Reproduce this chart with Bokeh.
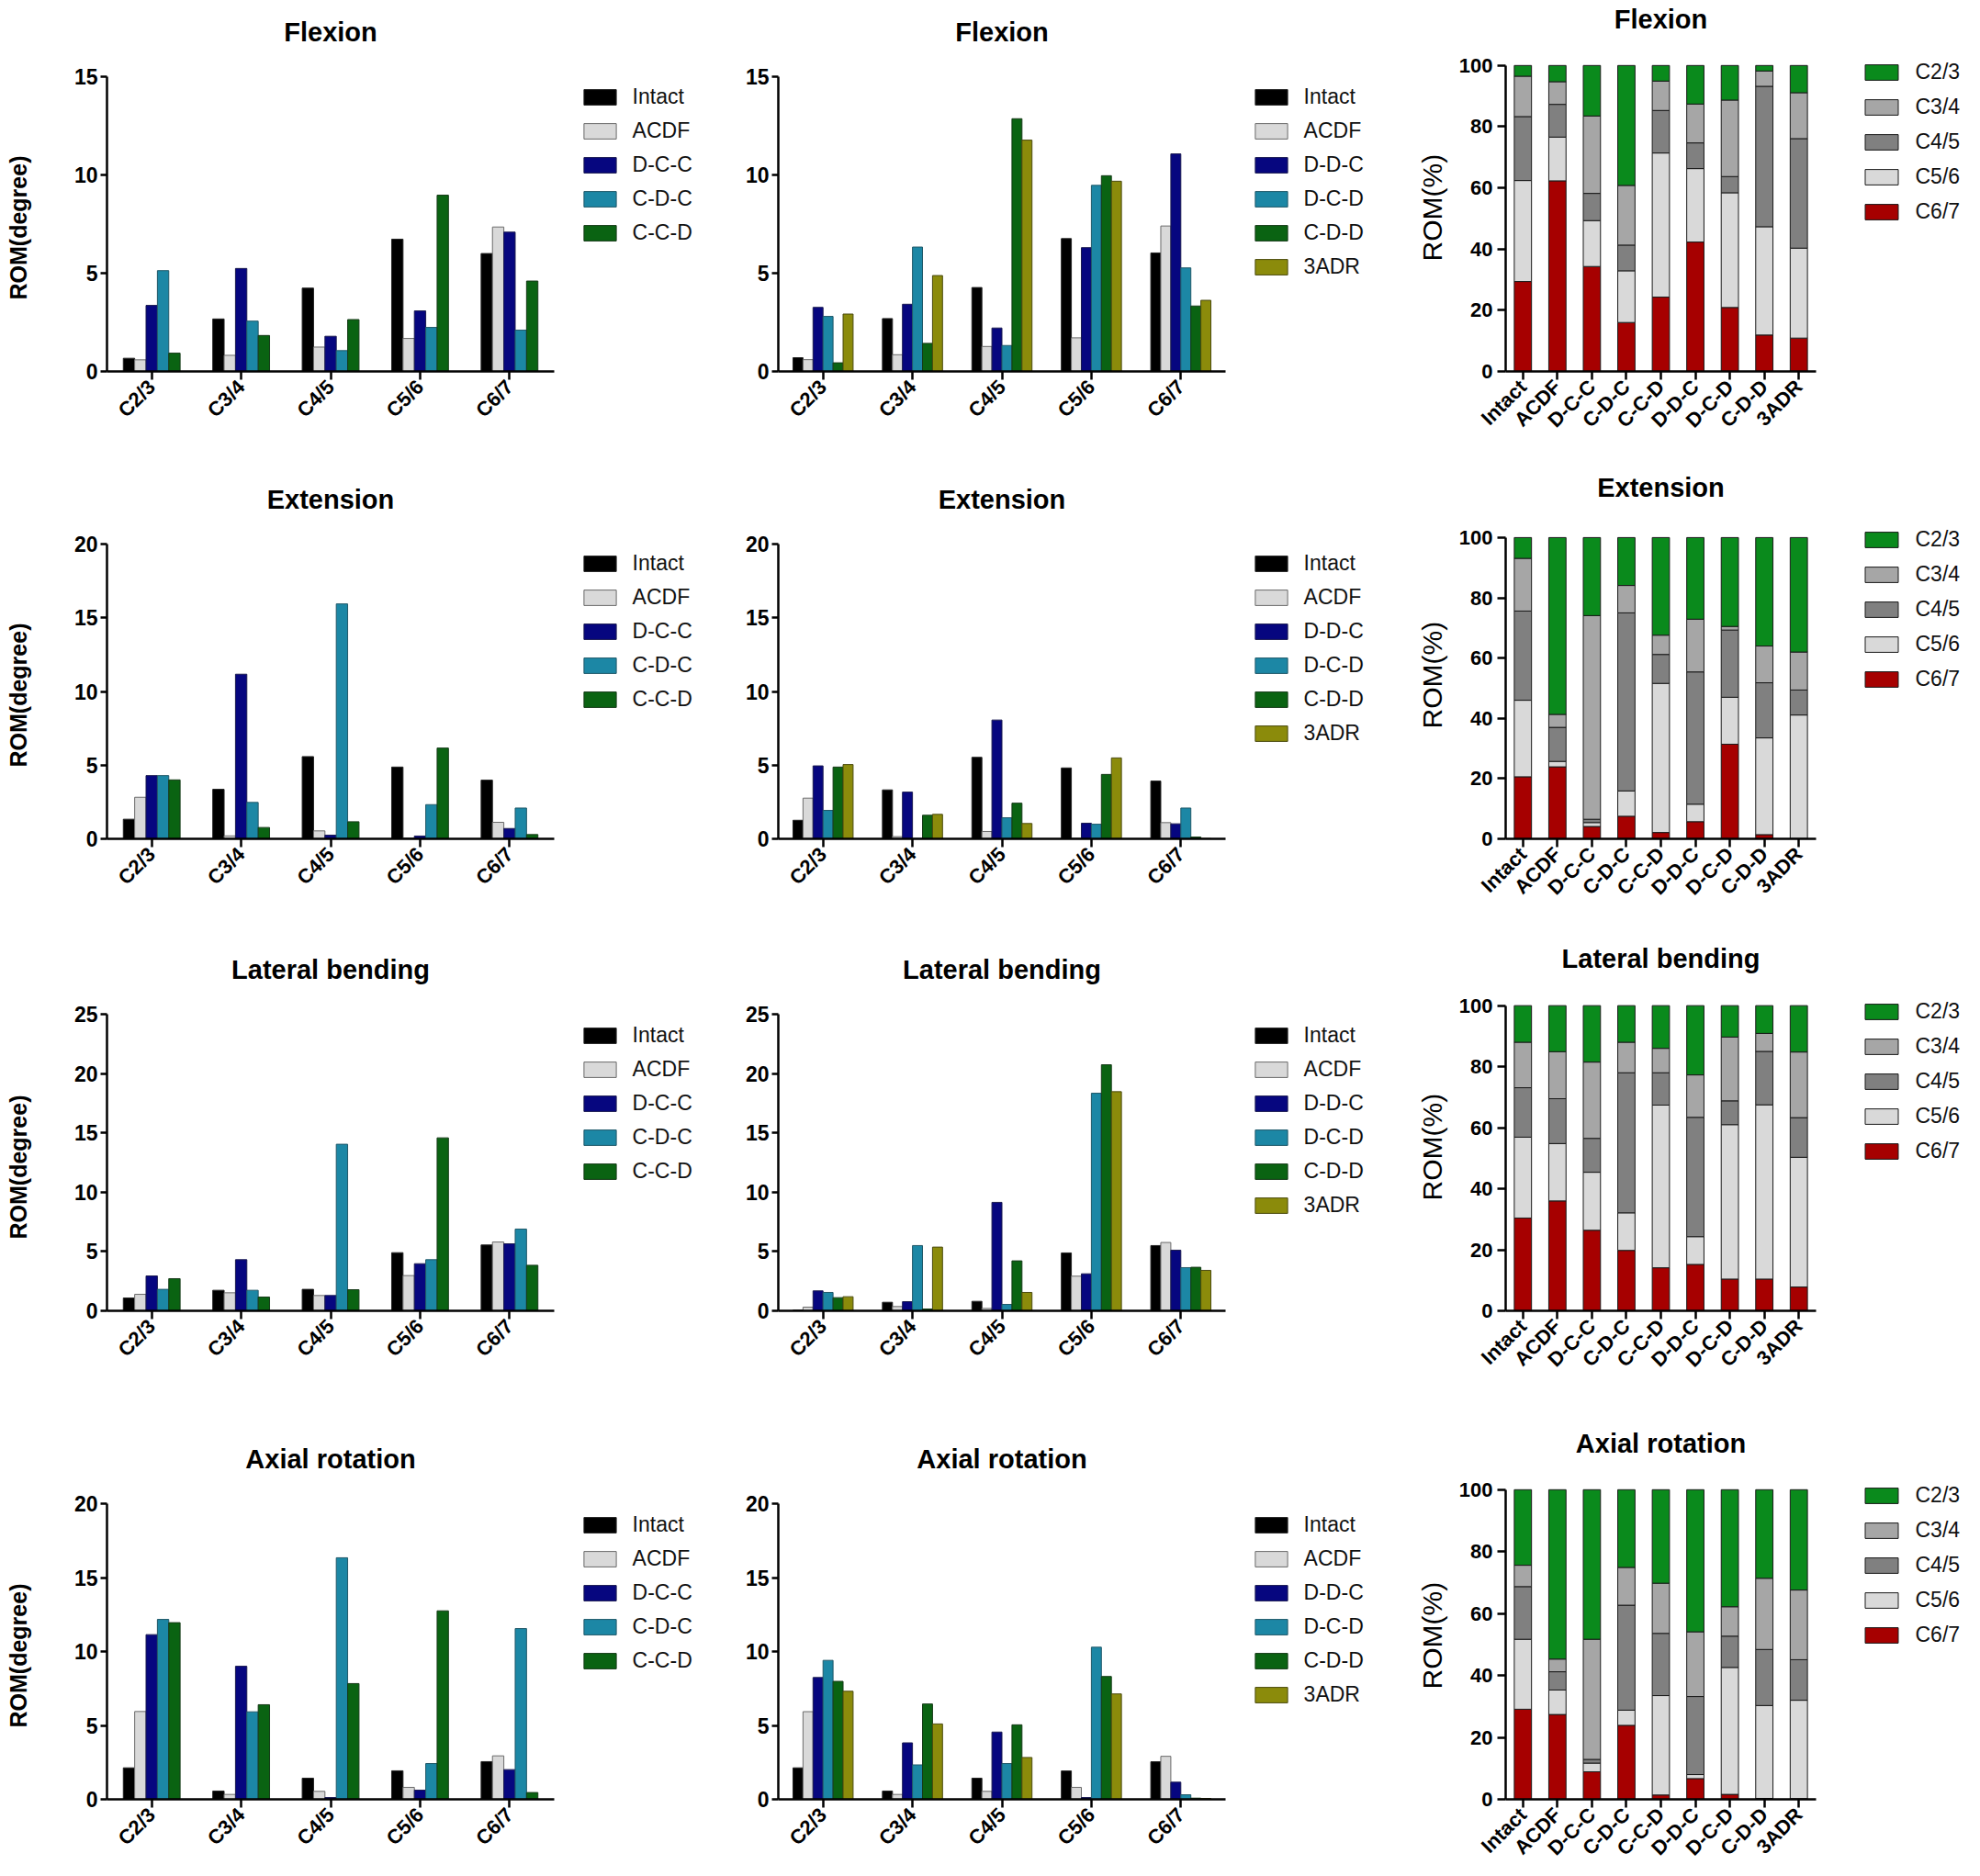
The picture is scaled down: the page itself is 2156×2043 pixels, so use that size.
from bokeh.plotting import figure
from bokeh.models import (ColumnDataSource, Range1d, Legend, LegendItem, Label, Title,
                          FixedTicker)
from bokeh.transform import dodge
from bokeh.layouts import column, row
from bokeh.embed import file_html
from bokeh.resources import INLINE
import math

# ---------------- data ----------------
LEVELS = ["C2/3", "C3/4", "C4/5", "C5/6", "C6/7"]
SERIES_A = ["Intact", "ACDF", "D-C-C", "C-D-C", "C-C-D"]
SERIES_B = ["Intact", "ACDF", "D-D-C", "D-C-D", "C-D-D", "3ADR"]
CASES = ["Intact", "ACDF", "D-C-C", "C-D-C", "C-C-D", "D-D-C", "D-C-D", "C-D-D", "3ADR"]

FLEX_A = {
    "Intact": [0.67, 2.67, 4.24, 6.73, 6.00],
    "ACDF":   [0.59, 0.82, 1.24, 1.68, 7.35],
    "D-C-C":  [3.36, 5.24, 1.79, 3.08, 7.09],
    "C-D-C":  [5.13, 2.56, 1.06, 2.24, 2.10],
    "C-C-D":  [0.93, 1.83, 2.64, 8.97, 4.60],
}
FLEX_B = {
    "Intact": [0.70, 2.69, 4.27, 6.76, 6.03],
    "ACDF":   [0.60, 0.85, 1.27, 1.71, 7.40],
    "D-D-C":  [3.26, 3.42, 2.21, 6.30, 11.07],
    "D-C-D":  [2.80, 6.33, 1.32, 9.47, 5.27],
    "C-D-D":  [0.44, 1.43, 12.86, 9.96, 3.33],
    "3ADR":   [2.92, 4.88, 11.77, 9.68, 3.62],
}
EXT_A = {
    "Intact": [1.33, 3.36, 5.58, 4.87, 3.98],
    "ACDF":   [2.82, 0.20, 0.54, 0.06, 1.12],
    "D-C-C":  [4.29, 11.17, 0.25, 0.19, 0.70],
    "C-D-C":  [4.29, 2.47, 15.94, 2.32, 2.09],
    "C-C-D":  [4.00, 0.77, 1.16, 6.16, 0.29],
}
EXT_B = {
    "Intact": [1.26, 3.32, 5.53, 4.81, 3.92],
    "ACDF":   [2.76, 0.15, 0.50, 0.03, 1.10],
    "D-D-C":  [4.95, 3.17, 8.06, 1.06, 1.02],
    "D-C-D":  [1.93, 0.02, 1.43, 0.99, 2.09],
    "C-D-D":  [4.87, 1.60, 2.42, 4.37, 0.12],
    "3ADR":   [5.04, 1.66, 1.04, 5.49, 0.02],
}
LAT_A = {
    "Intact": [1.08, 1.73, 1.81, 4.90, 5.55],
    "ACDF":   [1.39, 1.52, 1.29, 2.97, 5.80],
    "D-C-C":  [2.94, 4.31, 1.29, 3.97, 5.65],
    "C-D-C":  [1.81, 1.73, 14.04, 4.31, 6.89],
    "C-C-D":  [2.71, 1.16, 1.78, 14.58, 3.84],
}
LAT_B = {
    "Intact": [0.05, 0.72, 0.80, 4.88, 5.50],
    "ACDF":   [0.31, 0.36, 0.20, 2.92, 5.76],
    "D-D-C":  [1.68, 0.77, 9.14, 3.12, 5.11],
    "D-C-D":  [1.55, 5.50, 0.54, 18.34, 3.64],
    "C-D-D":  [1.11, 0.15, 4.21, 20.74, 3.67],
    "3ADR":   [1.19, 5.37, 1.55, 18.47, 3.41],
}
AX_A = {
    "Intact": [2.13, 0.56, 1.43, 1.93, 2.55],
    "ACDF":   [5.94, 0.33, 0.54, 0.81, 2.94],
    "D-C-C":  [11.14, 9.00, 0.12, 0.62, 2.01],
    "C-D-C":  [12.17, 5.92, 16.34, 2.42, 11.55],
    "C-C-D":  [11.95, 6.40, 7.83, 12.75, 0.46],
}
AX_B = {
    "Intact": [2.13, 0.56, 1.43, 1.92, 2.54],
    "ACDF":   [5.93, 0.33, 0.54, 0.81, 2.91],
    "D-D-C":  [8.24, 3.82, 4.55, 0.12, 1.16],
    "D-C-D":  [9.40, 2.33, 2.42, 10.29, 0.31],
    "C-D-D":  [7.98, 6.45, 5.04, 8.31, 0.08],
    "3ADR":   [7.31, 5.10, 2.83, 7.13, 0.06],
}

# percentage share of each level (stack segments), per case
FLEX_PCT = {
    "C6/7": [29.4, 62.3, 34.3, 16.0, 24.3, 42.3, 20.9, 11.9, 10.9],
    "C5/6": [33.0, 14.3, 15.0, 16.9, 47.1, 24.0, 37.5, 35.4, 29.4],
    "C4/5": [20.9, 10.7, 8.9, 8.4, 13.9, 8.4, 5.3, 45.9, 35.8],
    "C3/4": [13.2, 7.4, 25.3, 19.5, 9.6, 12.7, 25.0, 5.0, 15.0],
    "C2/3": [3.5, 5.3, 16.5, 39.2, 5.1, 12.6, 11.3, 1.8, 8.9],
}
EXT_PCT = {
    "C6/7": [20.6, 23.9, 4.1, 7.5, 2.1, 5.7, 31.4, 1.4, 0.1],
    "C5/6": [25.4, 1.8, 1.3, 8.4, 49.5, 5.8, 15.6, 32.1, 41.0],
    "C4/5": [29.6, 11.3, 1.1, 59.1, 9.6, 43.9, 22.3, 18.3, 8.3],
    "C3/4": [17.5, 4.3, 67.6, 9.1, 6.4, 17.5, 1.2, 12.2, 12.6],
    "C2/3": [6.9, 58.7, 25.9, 15.9, 32.4, 27.1, 29.5, 36.0, 38.0],
}
LAT_PCT = {
    "C6/7": [30.4, 36.0, 26.4, 19.8, 14.1, 15.2, 10.4, 10.4, 7.8],
    "C5/6": [26.5, 18.8, 19.0, 12.3, 53.3, 9.1, 50.6, 57.1, 42.5],
    "C4/5": [16.2, 14.7, 11.1, 45.9, 10.6, 39.1, 7.8, 17.5, 13.0],
    "C3/4": [14.9, 15.4, 25.0, 10.0, 8.0, 13.9, 20.9, 5.9, 21.5],
    "C2/3": [12.0, 15.1, 18.5, 12.0, 14.0, 22.7, 10.3, 9.1, 15.2],
}
AX_PCT = {
    "C6/7": [29.1, 27.4, 8.9, 23.9, 1.4, 6.7, 1.6, 0.3, 0.2],
    "C5/6": [22.6, 7.9, 2.8, 4.9, 32.1, 1.3, 41.0, 30.0, 31.8],
    "C4/5": [17.0, 5.9, 1.2, 33.9, 20.1, 25.2, 10.1, 18.1, 13.1],
    "C3/4": [6.9, 4.1, 38.8, 12.2, 16.2, 20.9, 9.5, 23.0, 22.5],
    "C2/3": [24.4, 54.7, 48.3, 25.1, 30.2, 45.9, 37.8, 28.6, 32.4],
}

TITLES = ["Flexion", "Extension", "Lateral bending", "Axial rotation"]
YMAX = [15, 20, 25, 20]

# ---------------- styles ----------------
COLORS = {
    "Intact": "#000000", "ACDF": "#d9d9d9",
    "D-C-C": "#06067f", "D-D-C": "#06067f",
    "C-D-C": "#1c87a5", "D-C-D": "#1c87a5",
    "C-C-D": "#0a6312", "C-D-D": "#0a6312",
    "3ADR": "#8b8b0b",
}
EDGE = {
    "Intact": "#222222", "ACDF": "#6a6a6a",
    "D-C-C": "#1a1a50", "D-D-C": "#1a1a50",
    "C-D-C": "#205868", "D-C-D": "#205868",
    "C-C-D": "#163a18", "C-D-D": "#163a18",
    "3ADR": "#4a4a10",
}
STACK_COLORS = {"C2/3": "#0a8a1c", "C3/4": "#a6a6a6", "C4/5": "#808080",
                "C5/6": "#d9d9d9", "C6/7": "#a60000"}
FONT = "Liberation Sans"

# layout (page pixels)
ROW_Y = [0, 510, 1020, 1545]
ROW_H = [510, 510, 525, 498]
TOP_AB = [83, 592, 1104, 1637]      # y of value-axis top, columns 1-2
BOT_AB = [404, 913, 1427, 1959]     # y of x axis, columns 1-2
TOP_C = [71, 586, 1095, 1622]
BOT_C = [405, 919, 1429, 1960]
COL_W = [775, 765, 616]
LEFT = [116, 72, 99]
DATA_W = [487, 487, 338]            # width of the axis span
LEG_FIRST_AB = [22, 21, 23, 23]
LEG_FIRST_C = [8, 7, 8, 7]
ITEM_H = 28


def base_figure(r, c, top_y, bot_y, n_units, ymax):
    W, H = COL_W[c], ROW_H[r]
    full_w = W - LEFT[c] - 2
    full_h = bot_y - (ROW_Y[r] + 2)
    data_h = bot_y - top_y
    p = figure(x_range=Range1d(0, n_units * full_w / DATA_W[c]),
               y_range=Range1d(0, ymax * full_h / data_h),
               width=W, height=H, min_border_left=LEFT[c], min_border_right=2,
               min_border_top=2, min_border_bottom=ROW_Y[r] + H - bot_y,
               output_backend="svg", toolbar_location=None)
    p.xgrid.visible = False
    p.ygrid.visible = False
    p.outline_line_color = None
    p.xaxis[0].bounds = (0, n_units)
    p.yaxis[0].bounds = (0, ymax)
    for ax in (p.xaxis[0], p.yaxis[0]):
        ax.axis_line_width = 2.5
        ax.axis_line_color = "#000000"
        ax.major_tick_line_width = 2.5
        ax.major_tick_line_color = "#000000"
        ax.major_tick_in = 0
        ax.minor_tick_line_color = None
        ax.major_label_text_font = FONT
        ax.major_label_text_font_style = "bold"
        ax.major_label_text_color = "#000000"
    p.xaxis[0].major_tick_out = 9
    p.xaxis[0].major_label_standoff = 4
    p.xaxis[0].major_label_text_font_size = "22px"
    p.xaxis[0].major_label_orientation = math.pi / 4
    return p, data_h


def add_title(p, text, data_w, data_h, gap):
    p.add_layout(Label(x=data_w / 2, y=data_h + gap, x_units="screen", y_units="screen",
                       text=text, text_align="center", text_baseline="alphabetic",
                       text_font=FONT, text_font_style="bold",
                       text_font_size="29px", text_color="#000000"))


def add_ylabel(p, text, spacer, offset, size, style):
    # spacer between the tick labels and the axis title, then the title itself
    p.add_layout(Title(text=" ", text_font_size="1px", standoff=spacer - 3), "left")
    p.add_layout(Title(text=text, align="left", offset=offset, vertical_align="bottom",
                       standoff=0, text_font=FONT, text_font_style=style,
                       text_font_size=size, text_color="#000000"), "left")


def add_legend(p, items, data_w, data_h, gapx, first_center, pitch, glyph_w, standoff):
    for i, it in enumerate(items):
        center_from_bottom = data_h - (first_center + i * pitch)
        leg = Legend(items=[it], location=(data_w + gapx, center_from_bottom - ITEM_H / 2),
                     orientation="vertical", glyph_width=glyph_w, glyph_height=21,
                     label_height=ITEM_H, spacing=0, padding=0, margin=0,
                     label_standoff=standoff, label_text_font=FONT,
                     label_text_font_size="23px", label_text_color="#111111",
                     border_line_color=None, background_fill_alpha=0)
        p.add_layout(leg)


def grouped(r, c, data, series, ylabel):
    n = len(series)
    bw = 0.127 if n == 5 else 0.112
    xpos = [i + 0.5 for i in range(len(LEVELS))]
    src = ColumnDataSource(dict(xpos=xpos, **{s: data[s] for s in series}))
    p, data_h = base_figure(r, c, TOP_AB[r], BOT_AB[r], len(LEVELS), YMAX[r])
    items = []
    for i, s in enumerate(series):
        off = (i - (n - 1) / 2) * bw
        rr = p.vbar(x=dodge("xpos", off), top=s, width=bw, bottom=0,
                    source=src, fill_color=COLORS[s], line_color=EDGE[s], line_width=1)
        items.append(LegendItem(label=s, renderers=[rr]))
    p.xaxis[0].ticker = FixedTicker(ticks=xpos)
    p.xaxis[0].major_label_overrides = {x: lv for x, lv in zip(xpos, LEVELS)}
    ya = p.yaxis[0]
    ya.ticker = FixedTicker(ticks=list(range(0, YMAX[r] + 1, 5)))
    ya.major_tick_out = 7
    ya.major_label_standoff = 3
    ya.major_label_text_font_size = "23px"
    if ylabel:
        add_ylabel(p, ylabel, 44, 78, "25px", "bold")
    add_title(p, TITLES[r], DATA_W[c], data_h, 48.5)
    add_legend(p, items, DATA_W[c], data_h, 27.6, LEG_FIRST_AB[r], 37.1, 44, 14)
    return p


def stacked(r, pct):
    c = 2
    order = ["C6/7", "C5/6", "C4/5", "C3/4", "C2/3"]
    xpos = [i + 0.5 for i in range(len(CASES))]
    src = ColumnDataSource(dict(xpos=xpos, **{lv: pct[lv] for lv in LEVELS}))
    p, data_h = base_figure(r, c, TOP_C[r], BOT_C[r], len(CASES), 100)
    rs = p.vbar_stack(order, x="xpos", width=0.5, source=src,
                      fill_color=[STACK_COLORS[o] for o in order],
                      line_color="#1a1a1a", line_width=1)
    lookup = dict(zip(order, rs))
    items = [LegendItem(label=lv, renderers=[lookup[lv]]) for lv in LEVELS]
    p.xaxis[0].ticker = FixedTicker(ticks=xpos)
    p.xaxis[0].major_label_overrides = {x: cs for x, cs in zip(xpos, CASES)}
    ya = p.yaxis[0]
    ya.ticker = FixedTicker(ticks=[0, 20, 40, 60, 80, 100])
    ya.major_tick_out = 9
    ya.major_label_standoff = 5
    ya.major_label_text_font_size = "22px"
    add_ylabel(p, "ROM(%)", 10, 120, "30px", "normal")
    add_title(p, TITLES[r], DATA_W[c], data_h, 49.5)
    add_legend(p, items, DATA_W[c], data_h, 48.5, LEG_FIRST_C[r], 38.2, 45, 15)
    return p


A_SETS = [FLEX_A, EXT_A, LAT_A, AX_A]
B_SETS = [FLEX_B, EXT_B, LAT_B, AX_B]
PCT_SETS = [FLEX_PCT, EXT_PCT, LAT_PCT, AX_PCT]

rows = []
for r in range(4):
    f1 = grouped(r, 0, A_SETS[r], SERIES_A, "ROM(degree)")
    f2 = grouped(r, 1, B_SETS[r], SERIES_B, None)
    f3 = stacked(r, PCT_SETS[r])
    rows.append(row(f1, f2, f3))

layout = column(*rows)
open("out.html", "w").write(file_html(layout, INLINE))
